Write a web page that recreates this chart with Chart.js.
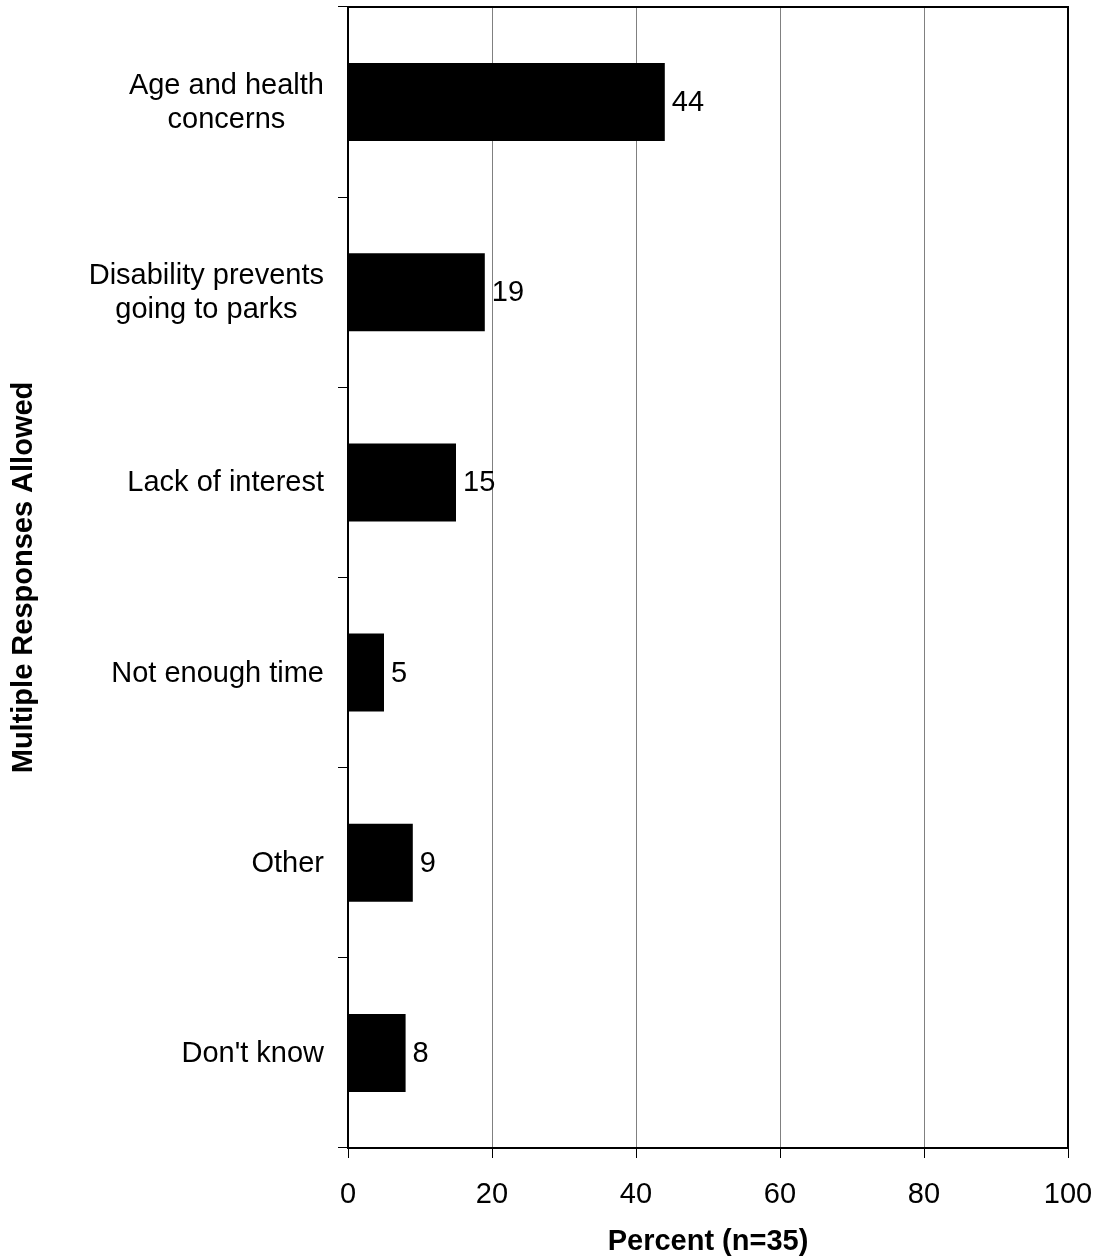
<!DOCTYPE html>
<html>
<head>
<meta charset="utf-8">
<script src="https://cdn.jsdelivr.net/npm/chart.js@4/dist/chart.umd.min.js"></script>
<style>
  html, body { margin: 0; padding: 0; background: #ffffff; }
  canvas { display: block; }
</style>
</head>
<body>
<canvas id="chart" width="1097" height="1259"></canvas>
<script>
// Reasons given for not visiting parks (percent of respondents, n=35)
const categories = [
  ["Age and health", "concerns"],
  ["Disability prevents", "going to parks"],
  ["Lack of interest"],
  ["Not enough time"],
  ["Other"],
  ["Don't know"]
];
const percentValues = [44, 19, 15, 5, 9, 8];
const xTickValues = [0, 20, 40, 60, 80, 100];
const xAxisTitle = "Percent (n=35)";
const yAxisTitle = "Multiple Responses Allowed";

const FONT = '"Liberation Sans", Arial, Helvetica, sans-serif';
const FONT_SIZE = 29;

// Category names: each block right-aligned to the axis, its lines centred on one another
const categoryLabels = {
  id: 'categoryLabels',
  afterDraw(chart) {
    const ctx = chart.ctx;
    const yScale = chart.scales.y;
    const right = chart.chartArea.left - 24;
    ctx.save();
    ctx.font = FONT_SIZE + 'px ' + FONT;
    ctx.fillStyle = '#000000';
    ctx.textAlign = 'center';
    ctx.textBaseline = 'alphabetic';
    categories.forEach((lines, i) => {
      const cy = yScale.getPixelForTick(i);
      const w = Math.max(...lines.map(l => ctx.measureText(l).width));
      const cx = right - w / 2;
      lines.forEach((line, j) => {
        ctx.fillText(line, cx, cy + (j - (lines.length - 1) / 2) * 34 + 9);
      });
    });
    ctx.restore();
  }
};

// Value printed just past the end of each bar
const valueLabels = {
  id: 'valueLabels',
  afterDatasetsDraw(chart) {
    const ctx = chart.ctx;
    const meta = chart.getDatasetMeta(0);
    ctx.save();
    ctx.font = FONT_SIZE + 'px ' + FONT;
    ctx.fillStyle = '#000000';
    ctx.textAlign = 'left';
    ctx.textBaseline = 'alphabetic';
    meta.data.forEach((bar, i) => {
      ctx.fillText(String(percentValues[i]), bar.x + 7, bar.y + 9);
    });
    ctx.restore();
  }
};

// Top and right edges of the plot frame
const plotFrame = {
  id: 'plotFrame',
  afterDraw(chart) {
    const { left, right, top, bottom } = chart.chartArea;
    const ctx = chart.ctx;
    ctx.save();
    ctx.strokeStyle = '#000000';
    ctx.lineWidth = 2;
    ctx.beginPath();
    ctx.moveTo(left - 1, top);
    ctx.lineTo(right, top);
    ctx.lineTo(right, bottom + 1);
    ctx.stroke();
    ctx.restore();
  }
};

new Chart(document.getElementById('chart'), {
  type: 'bar',
  data: {
    labels: categories,
    datasets: [{
      data: percentValues,
      backgroundColor: '#000000',
      borderWidth: 0,
      barPercentage: 0.41,
      categoryPercentage: 1.0
    }]
  },
  options: {
    indexAxis: 'y',
    responsive: false,
    animation: false,
    devicePixelRatio: 1,
    layout: { padding: { top: 7, right: 29, left: 0, bottom: 0 } },
    plugins: {
      legend: { display: false },
      tooltip: { enabled: false }
    },
    scales: {
      x: {
        min: 0,
        max: 100,
        afterBuildTicks(scale) {
          scale.ticks = xTickValues.map(v => ({ value: v }));
        },
        afterFit(scale) {
          scale.height = 111;
          scale.paddingLeft = 0;
          scale.paddingRight = 0;
        },
        grid: {
          color: '#808080',
          lineWidth: 1,
          drawTicks: true,
          tickLength: 10,
          tickColor: '#000000'
        },
        border: { display: true, color: '#000000', width: 2 },
        ticks: {
          color: '#000000',
          font: { family: FONT, size: FONT_SIZE },
          padding: 20,
          maxRotation: 0,
          callback: v => String(v)
        },
        title: {
          display: true,
          text: xAxisTitle,
          color: '#000000',
          font: { family: FONT, size: FONT_SIZE, weight: 'bold' },
          padding: { top: 0, bottom: 0 }
        }
      },
      y: {
        afterFit(scale) { scale.width = 348; },
        grid: {
          offset: true,
          drawOnChartArea: false,
          drawTicks: true,
          tickLength: 10,
          color: '#000000',
          tickColor: '#000000',
          lineWidth: 1
        },
        border: { display: true, color: '#000000', width: 2 },
        ticks: { display: false },
        title: {
          display: true,
          text: yAxisTitle,
          color: '#000000',
          font: { family: FONT, size: FONT_SIZE, weight: 'bold' },
          padding: { top: 7, bottom: 0 }
        }
      }
    }
  },
  plugins: [categoryLabels, valueLabels, plotFrame]
});
</script>
</body>
</html>
